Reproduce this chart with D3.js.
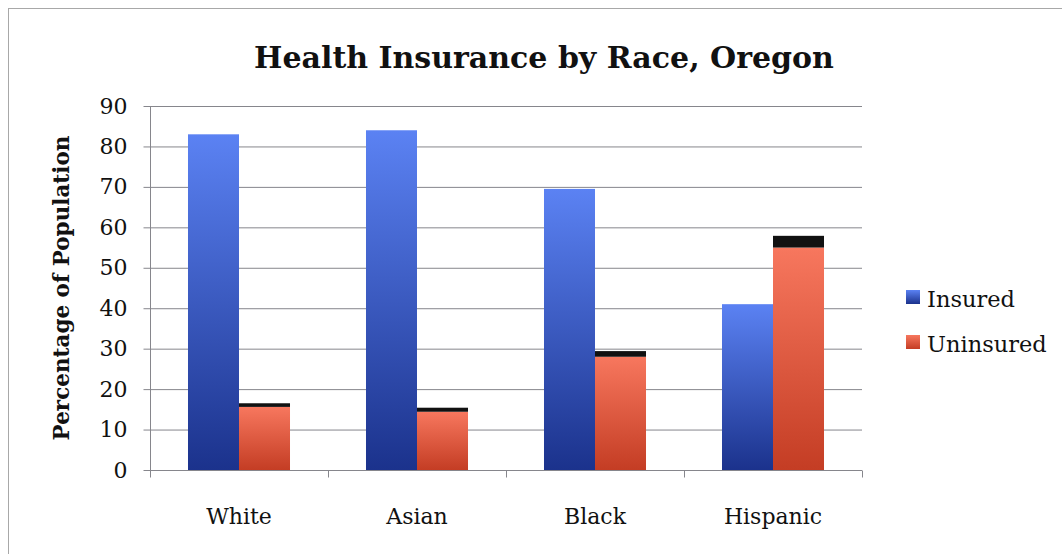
<!DOCTYPE html>
<html>
<head>
  <meta charset="utf-8">
  <title>Health Insurance by Race, Oregon</title>
  <style>
    body { margin: 0; background: white; }
    text { font-family: "DejaVu Serif", serif; fill: #111; }
    .grid line { stroke: #86868c; stroke-width: 1; }
    .axis path, .axis line { stroke: #86868c; }
    .axis text { font-size: 22px; }
  </style>
</head>
<body>
<script src="https://cdnjs.cloudflare.com/ajax/libs/d3/7.8.5/d3.min.js"></script>
<script>

// values (percent of population)
var races = ["White", "Asian", "Black", "Hispanic"];
var insured = [83, 84, 69.5, 41];
var uninsured = [15.6, 14.4, 28, 55];
var uninsuredTop = [16.5, 15.4, 29.4, 57.9]; // black cap on top of uninsured
var yTicks = [0, 10, 20, 30, 40, 50, 60, 70, 80, 90];
var seriesNames = ["Insured", "Uninsured"];

var width = 1062, height = 554;
var margin = {left: 150, right: 200, top: 106, bottom: 84};

var svg = d3.select("body").append("svg")
  .attr("width", width)
  .attr("height", height);

var defs = svg.append("defs");
function gradient(id, top, bottom) {
  var g = defs.append("linearGradient")
    .attr("id", id)
    .attr("x1", 0).attr("y1", 0).attr("x2", 0).attr("y2", 1);
  g.append("stop").attr("offset", "0%").attr("stop-color", top);
  g.append("stop").attr("offset", "100%").attr("stop-color", bottom);
}
gradient("blue", "#5b82f3", "#1b328c");
gradient("red", "#f7775e", "#c43d24");

// outer frame of the chart
svg.append("rect")
  .attr("x", 8.5).attr("y", 8.5)
  .attr("width", width + 20).attr("height", height + 20)
  .attr("fill", "none")
  .attr("stroke", "#a8a8a8");

var x = d3.scaleBand()
  .domain(races)
  .range([margin.left, width - margin.right])
  .paddingInner(0)
  .paddingOuter(0);

var y = d3.scaleLinear()
  .domain([0, 90])
  .range([height - margin.bottom, margin.top]);

var inner = d3.scaleBand()
  .domain(seriesNames)
  .range([0, x.bandwidth()])
  .paddingOuter(0.745)
  .paddingInner(0);

// gridlines
svg.append("g")
  .attr("class", "grid")
  .selectAll("line")
  .data(yTicks.slice(1))
  .enter().append("line")
  .attr("x1", margin.left)
  .attr("x2", width - margin.right)
  .attr("y1", d => y(d) + 0.5)
  .attr("y2", d => y(d) + 0.5);

var groups = svg.append("g")
  .selectAll("g")
  .data(races)
  .enter().append("g")
  .attr("transform", d => "translate(" + x(d) + ",0)");

groups.append("rect")
  .attr("x", inner("Insured"))
  .attr("width", inner.bandwidth())
  .attr("y", (d, i) => y(insured[i]))
  .attr("height", (d, i) => y(0) - y(insured[i]))
  .attr("fill", "url(#blue)");

groups.append("rect")
  .attr("x", inner("Uninsured"))
  .attr("width", inner.bandwidth())
  .attr("y", (d, i) => y(uninsured[i]))
  .attr("height", (d, i) => y(0) - y(uninsured[i]))
  .attr("fill", "url(#red)");

groups.append("rect")
  .attr("x", inner("Uninsured"))
  .attr("width", inner.bandwidth())
  .attr("y", (d, i) => y(uninsuredTop[i]))
  .attr("height", (d, i) => y(uninsured[i]) - y(uninsuredTop[i]))
  .attr("fill", "#111");

// y axis
var yAxis = d3.axisLeft(y)
  .tickValues(yTicks)
  .tickSize(7)
  .tickPadding(16);
svg.append("g")
  .attr("class", "axis")
  .attr("transform", "translate(" + (margin.left + 0.5) + ",0)")
  .call(yAxis)
  .call(g => g.select(".domain").attr("d", "M0," + y(90) + "V" + y(0)));

// x axis, ticks between categories
var xAxis = svg.append("g")
  .attr("class", "axis")
  .attr("transform", "translate(0," + (y(0) + 0.5) + ")");
xAxis.append("line")
  .attr("x1", margin.left).attr("x2", width - margin.right)
  .attr("stroke", "#86868c");
var edges = races.map(d => x(d)).concat([x(races[3]) + x.bandwidth()]);
xAxis.selectAll(".edge")
  .data(edges)
  .enter().append("line")
  .attr("class", "edge")
  .attr("x1", d => d + 0.5).attr("x2", d => d + 0.5)
  .attr("y1", 0).attr("y2", 7)
  .attr("stroke", "#86868c");
xAxis.selectAll(".cat")
  .data(races)
  .enter().append("text")
  .attr("class", "cat")
  .attr("x", d => x(d) + x.bandwidth() / 2)
  .attr("y", 53)
  .attr("text-anchor", "middle")
  .attr("font-size", "23px")
  .text(d => d);

// title
svg.append("text")
  .attr("x", 544)
  .attr("y", 68)
  .attr("text-anchor", "middle")
  .attr("font-size", "30px")
  .attr("font-weight", "bold")
  .text("Health Insurance by Race, Oregon");

// y label
svg.append("text")
  .attr("transform", "translate(69," + ((y(0) + y(90)) / 2) + ") rotate(-90)")
  .attr("text-anchor", "middle")
  .attr("font-size", "21.5px")
  .attr("font-weight", "bold")
  .text("Percentage of Population");

// legend
var legend = svg.append("g")
  .attr("transform", "translate(906,290)");
var legendItems = legend.selectAll("g")
  .data(seriesNames)
  .enter().append("g")
  .attr("transform", (d, i) => "translate(0," + (i * 45) + ")");
legendItems.append("rect")
  .attr("width", 14).attr("height", 14)
  .attr("fill", (d, i) => i == 0 ? "url(#blue)" : "url(#red)");
legendItems.append("text")
  .attr("x", 21)
  .attr("y", 17)
  .attr("font-size", "22.5px")
  .text(d => d);

</script>
</body>
</html>
